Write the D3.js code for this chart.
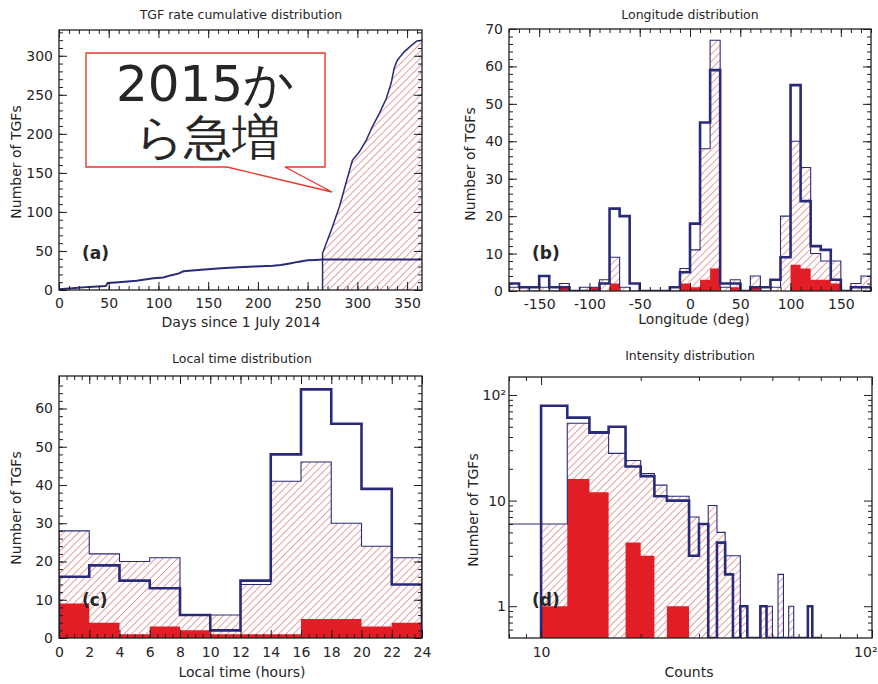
<!DOCTYPE html>
<html>
<head>
<meta charset="utf-8">
<script src="https://cdn.jsdelivr.net/npm/d3@7/dist/d3.min.js"></script>
<style>
  html, body { margin: 0; padding: 0; background: #fff; }
  svg { display: block; }
  text { font-family: "DejaVu Sans", "Liberation Sans", Arial, sans-serif; fill: #262626; }
</style>
</head>
<body>
<svg id="fig" width="878" height="684"></svg>
<script>
// ---------- (a) cumulative TGF counts ----------
const oldDays   = [0, 10, 30, 47, 49, 60, 78, 95, 105, 113, 120, 125, 143, 163, 180, 197, 215, 223, 232, 240, 250, 258, 265, 365];
const oldCounts = [1, 2, 4, 5, 9, 10, 12, 15, 16, 19, 21, 24, 26, 28, 29, 30, 31, 32, 34, 36, 38, 38.5, 39, 39];
const newDays   = [265, 270, 275, 282, 289, 295, 302, 309, 315, 322, 329, 334, 337, 340, 347, 355, 360, 365];
const newCounts = [47, 64, 81, 107, 139, 166, 177, 192, 209, 226, 245, 265, 284, 294, 305, 314, 319, 320];
const daysTicks = [0, 50, 100, 150, 200, 250, 300, 350];
const cumTicks  = [0, 50, 100, 150, 200, 250, 300];

// ---------- (b) longitude histogram (10 deg bins) ----------
const lonEdges = [-180,-170,-160,-150,-140,-130,-120,-110,-100,-90,-80,-70,-60,-50,-40,-30,-20,-10,
                  0,10,20,30,40,50,60,70,80,90,100,110,120,130,140,150,160,170,180];
const lonThick = [2,1,1,4,1,1,0,0,0,2,22,20,2,0,0,0,1,5,18,45,59,2,2,0,1,1,3,9,55,24,12,11,3,0,1,1];
const lonHatch = [1,1,0,1,0,2,0,1,1,3,9,1,0,0,0,0,0,6,11,38,67,1,3,0,4,0,1,20,40,33,10,8,8,0,2,4];
const lonRed   = [0,0,0,0,0,1,0,0,1,0,2,0,0,0,0,0,0,2,1,3,6,0,1,0,1,0,0,0,7,6,3,3,2,0,0,0];
const lonTicks = [-150, -100, -50, 0, 50, 100, 150];
const lonCountTicks = [0, 10, 20, 30, 40, 50, 60, 70];

// ---------- (c) local time histogram (2 h bins) ----------
const ltEdges = [0,2,4,6,8,10,12,14,16,18,20,22,24];
const ltThick = [16,19,15,13,6,2,15,48,65,56,39,14];
const ltHatch = [28,22,20,21,6,6,14,41,46,30,24,21];
const ltRed   = [9,4,1,3,2,1,1,1,5,5,3,4];
const ltTicks = [0,2,4,6,8,10,12,14,16,18,20,22,24];
const ltCountTicks = [0, 10, 20, 30, 40, 50, 60];

// ---------- (d) intensity histogram (2-count bins, log axes) ----------
const cntEdges = [10,12,14,16,18,20,22,24,26,28,30,32,34,36,38,40,42,44,46,48,50,52,54,56,58,60,62,64,66,68,70];
const cntThick = [79,61,44,50,21,17,11,10,10,3,6,0,4,2,0,1,0,0,1,0,0,0,0,0,0,0,0,1,0,0];
const cntHatch = [6,54,45,28,24,18,14,11,11,7,6,9,5,3,3,1,0,0,1,1,0,2,0,1,0,0,0,0,0,0];
const cntRed   = [1,16,12,0,4,3,0,1,1,0,0,0,0,0,0,0,0,0,0,0,0,0,0,0,0,0,0,0,0,0];
const cntTicks = [10, 100];
const cntLabels = ["10", "10²"];
const nTicks = [1, 10, 100];
const nLabels = ["1", "10", "10²"];

// ---------- styles ----------
const NAVY = "#2a2a7b", RED = "#e11d26", HATCH = "#e39494", INK = "#1f1f1f";

const svg = d3.select("#fig");
const defs = svg.append("defs");
const pat = defs.append("pattern").attr("id", "hatch")
  .attr("patternUnits", "userSpaceOnUse")
  .attr("width", 5.2).attr("height", 10)
  .attr("patternTransform", "rotate(45)");
pat.append("line").attr("x1", 0.5).attr("y1", 0).attr("x2", 0.5).attr("y2", 10)
  .attr("stroke", HATCH).attr("stroke-width", 0.9);

let clipId = 0;
function makePanel(box) {
  const id = "clip" + (clipId++);
  defs.append("clipPath").attr("id", id).append("rect")
    .attr("x", box.x0).attr("y", box.y0)
    .attr("width", box.x1 - box.x0).attr("height", box.y1 - box.y0);
  const g = svg.append("g");
  const plot = g.append("g").attr("clip-path", `url(#${id})`);
  return { g, plot };
}

// inward ticks on all four sides, labels on bottom and left
function frame(g, box, x, y, opt) {
  const addAxis = (gen, tx, ty) => {
    const a = g.append("g").attr("transform", `translate(${tx},${ty})`).call(gen);
    a.select(".domain").remove();
    a.selectAll("line").attr("stroke", INK).attr("stroke-width", 1);
    return a;
  };
  const none = () => "";
  // minor ticks
  addAxis(d3.axisBottom(x).tickValues(opt.xMinor).tickSize(-4).tickFormat(none), 0, box.y1);
  addAxis(d3.axisTop(x).tickValues(opt.xMinor).tickSize(-4).tickFormat(none), 0, box.y0);
  addAxis(d3.axisLeft(y).tickValues(opt.yMinor).tickSize(-4).tickFormat(none), box.x0, 0);
  addAxis(d3.axisRight(y).tickValues(opt.yMinor).tickSize(-4).tickFormat(none), box.x1, 0);
  // major ticks
  const bx = addAxis(d3.axisBottom(x).tickValues(opt.xMajor).tickSize(-8).tickPadding(opt.xPad || 8)
    .tickFormat(opt.xFmt || (d => d)), 0, box.y1);
  addAxis(d3.axisTop(x).tickValues(opt.xMajor).tickSize(-8).tickFormat(none), 0, box.y0);
  const ly = addAxis(d3.axisLeft(y).tickValues(opt.yMajor).tickSize(-8).tickPadding(opt.yPad || 6)
    .tickFormat(opt.yFmt || (d => d)), box.x0, 0);
  addAxis(d3.axisRight(y).tickValues(opt.yMajor).tickSize(-8).tickFormat(none), box.x1, 0);
  [bx, ly].forEach(a => a.selectAll("text")
    .attr("font-family", "DejaVu Sans, sans-serif").attr("font-size", 14).attr("fill", "#262626"));
  g.append("rect").attr("x", box.x0).attr("y", box.y0)
    .attr("width", box.x1 - box.x0).attr("height", box.y1 - box.y0)
    .attr("fill", "none").attr("stroke", INK).attr("stroke-width", 1.3);
  return bx;
}

function labels(g, box, t) {
  const cx = t.cx;
  g.append("text").attr("x", cx).attr("y", t.titleY).attr("text-anchor", "middle")
    .attr("font-size", 12.5).text(t.title);
  g.append("text").attr("x", t.xlabX || cx).attr("y", t.xlabY).attr("text-anchor", "middle")
    .attr("font-size", 14).text(t.xlab);
  g.append("text").attr("transform", `translate(${t.ylabX},${t.ylabY}) rotate(-90)`)
    .attr("text-anchor", "middle").attr("font-size", 14).text("Number of TGFs");
  g.append("text").attr("x", t.tagX).attr("y", t.tagY).attr("font-size", 17)
    .attr("font-weight", "bold").attr("fill", "#1a1a1a").text(t.tag);
}

// step histogram helpers
function stepPts(edges, vals) {
  const p = vals.map((v, i) => [edges[i], v]);
  p.push([edges[vals.length], vals[vals.length - 1]]);
  return p;
}
function histogram(plot, x, yv, base, edges, thick, hatch, red, leadIn) {
  const area = d3.area().curve(d3.curveStepAfter)
    .x(d => x(d[0])).y0(yv(base)).y1(d => yv(d[1]));
  const line = d3.line().curve(d3.curveStepAfter).x(d => x(d[0])).y(d => yv(d[1]));
  const n = thick.length;
  plot.append("path").attr("d", area(stepPts(edges, hatch))).attr("fill", "url(#hatch)");
  plot.append("path").attr("d", area(stepPts(edges, red))).attr("fill", RED);
  const hOut = [[edges[0], base], ...stepPts(edges, hatch), [edges[n], base]];
  if (leadIn !== undefined) hOut.splice(0, 1, [leadIn, hatch[0]]);
  plot.append("path").attr("d", line(hOut)).attr("fill", "none")
    .attr("stroke", NAVY).attr("stroke-width", 1.1);
  const tOut = [[edges[0], base], ...stepPts(edges, thick), [edges[n], base]];
  plot.append("path").attr("d", line(tOut)).attr("fill", "none")
    .attr("stroke", NAVY).attr("stroke-width", 2.6).attr("stroke-linejoin", "miter");
}

// ================= (a) =================
{
  const box = { x0: 59, x1: 422, y0: 30, y1: 290 };
  const x = d3.scaleLinear().domain([0, 365]).range([box.x0, box.x1]);
  const y = d3.scaleLinear().domain([0, 333]).range([box.y1, box.y0]);
  const { g, plot } = makePanel(box);
  const newPts = newDays.map((d, i) => [d, newCounts[i]]);
  plot.append("path")
    .attr("d", d3.area().x(d => x(d[0])).y0(y(0)).y1(d => y(d[1]))(newPts))
    .attr("fill", "url(#hatch)");
  const ln = d3.line().x(d => x(d[0])).y(d => y(d[1]));
  plot.append("path").attr("d", ln([[newDays[0], 0], ...newPts]))
    .attr("fill", "none").attr("stroke", NAVY).attr("stroke-width", 1.5);
  plot.append("path").attr("d", ln(oldDays.map((d, i) => [d, oldCounts[i]])))
    .attr("fill", "none").attr("stroke", NAVY).attr("stroke-width", 2);
  frame(g, box, x, y, {
    xMajor: daysTicks, xMinor: d3.range(0, 366, 10),
    yMajor: cumTicks, yMinor: d3.range(0, 333, 10)
  });
  labels(g, box, { cx: 241, title: "TGF rate cumulative distribution", titleY: 19,
    xlab: "Days since 1 July 2014", xlabY: 327, ylabX: 21, ylabY: 162, tag: "(a)", tagX: 82, tagY: 259 });

  // callout
  const co = svg.append("g");
  co.append("path")
    .attr("d", "M86,53 H325 V167 H285 L332,192 L227,167 H86 Z")
    .attr("fill", "#fff").attr("stroke", "#e8392e").attr("stroke-width", 1.4)
    .attr("stroke-linejoin", "miter");
  co.append("text").attr("x", 205).attr("y", 101).attr("text-anchor", "middle")
    .attr("font-family", "Noto Sans CJK JP, sans-serif").attr("font-size", 50)
    .attr("fill", "#111").text("2015か");
  co.append("text").attr("x", 207).attr("y", 154).attr("text-anchor", "middle")
    .attr("font-family", "Noto Sans CJK JP, sans-serif").attr("font-size", 48)
    .attr("fill", "#111").text("ら急増");
}

// ================= (b) =================
{
  const box = { x0: 509, x1: 871, y0: 29, y1: 291 };
  const x = d3.scaleLinear().domain([-180, 180]).range([box.x0, box.x1]);
  const y = d3.scaleLinear().domain([0, 70]).range([box.y1, box.y0]);
  const { g, plot } = makePanel(box);
  histogram(plot, x, v => y(v), 0, lonEdges, lonThick, lonHatch, lonRed);
  frame(g, box, x, y, {
    xMajor: lonTicks, xMinor: d3.range(-180, 181, 10),
    yMajor: lonCountTicks, yMinor: d3.range(0, 71, 2)
  });
  labels(g, box, { cx: 690, title: "Longitude distribution", titleY: 19,
    xlab: "Longitude (deg)", xlabX: 694, xlabY: 324, ylabX: 475, ylabY: 164, tag: "(b)", tagX: 532, tagY: 259 });
}

// ================= (c) =================
{
  const box = { x0: 59, x1: 422, y0: 376, y1: 638 };
  const x = d3.scaleLinear().domain([0, 24]).range([box.x0, box.x1]);
  const y = d3.scaleLinear().domain([0, 68.5]).range([box.y1, box.y0]);
  const { g, plot } = makePanel(box);
  histogram(plot, x, v => y(v), 0, ltEdges, ltThick, ltHatch, ltRed);
  frame(g, box, x, y, {
    xMajor: ltTicks, xMinor: d3.range(0, 24.01, 0.5),
    yMajor: ltCountTicks, yMinor: d3.range(0, 68, 2), xPad: 9
  });
  labels(g, box, { cx: 242, title: "Local time distribution", titleY: 363,
    xlab: "Local time (hours)", xlabY: 677, ylabX: 21, ylabY: 508, tag: "(c)", tagX: 82, tagY: 606 });
}

// ================= (d) =================
{
  const box = { x0: 509, x1: 872, y0: 377, y1: 638 };
  const x = d3.scaleLog().domain([8, 100]).range([box.x0, box.x1]);
  const y = d3.scaleLog().domain([0.5, 148]).range([box.y1, box.y0]);
  const floor = 0.5;
  const { g, plot } = makePanel(box);
  histogram(plot, x, v => y(Math.max(v, floor)), floor, cntEdges, cntThick, cntHatch, cntRed, 8);
  const bx = frame(g, box, x, y, {
    xMajor: cntTicks, xMinor: [8, 9, 20, 30, 40, 50, 60, 70, 80, 90],
    yMajor: nTicks, yMinor: [0.6, 0.7, 0.8, 0.9, 2, 3, 4, 5, 6, 7, 8, 9, 20, 30, 40, 50, 60, 70, 80, 90],
    xFmt: d => cntLabels[cntTicks.indexOf(d)], yFmt: d => nLabels[nTicks.indexOf(d)], xPad: 9, yPad: 3
  });
  // keep the label at the right end of the axis inside the page
  bx.selectAll(".tick").filter(d => d === 100).select("text")
    .attr("text-anchor", "end").attr("x", 877 - box.x1);
  labels(g, box, { cx: 690, title: "Intensity distribution", titleY: 360,
    xlab: "Counts", xlabX: 689, xlabY: 677, ylabX: 478, ylabY: 510, tag: "(d)", tagX: 532, tagY: 606 });
}
</script>
</body>
</html>
